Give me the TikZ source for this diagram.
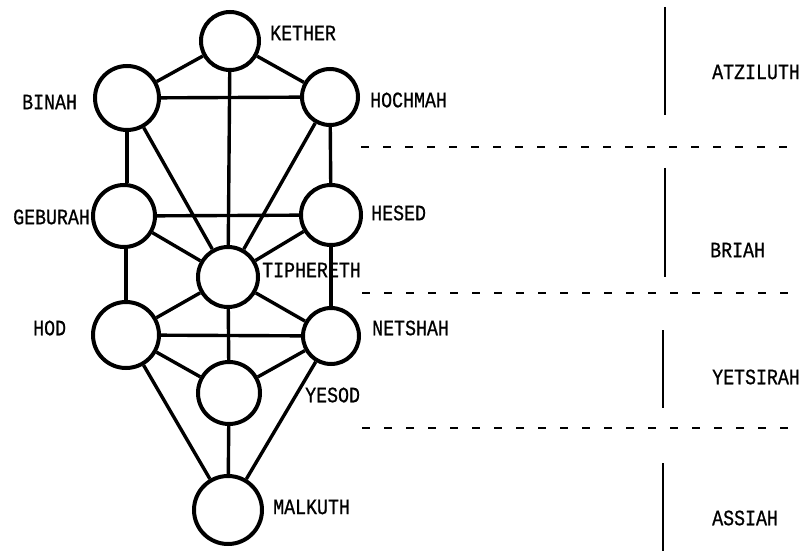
\documentclass[tikz,border=0pt]{standalone}
\usepackage{fontspec}
\newfontfamily\lblfont[FakeStretch=0.83,FakeBold=0.8]{Liberation Mono}
\begin{document}
\begin{tikzpicture}[x=1bp,y=-1bp,
  sephira/.style={circle,draw,line width=4bp,inner sep=0pt},
  path22/.style={line width=3.4bp},
  lbl/.style={anchor=west,inner sep=0pt,font=\lblfont\fontsize{22bp}{24bp}\selectfont},
  worldline/.style={line width=1.8bp},
  divider/.style={line width=1.8bp,dash pattern=on 8bp off 14bp}]
\useasboundingbox (0,0) rectangle (801,551);
% sephiroth
\node[sephira,minimum size=58bp] (kether) at (230,41) {};
\node[sephira,minimum size=64bp] (binah) at (127,98) {};
\node[sephira,minimum size=56bp] (hochmah) at (330,97) {};
\node[sephira,minimum size=62bp] (geburah) at (124,216) {};
\node[sephira,minimum size=60bp] (hesed) at (331,215) {};
\node[sephira,minimum size=60bp] (tiphereth) at (228,277) {};
\node[sephira,minimum size=66bp] (hod) at (126,335) {};
\node[sephira,minimum size=56bp] (netshah) at (331,336) {};
\node[sephira,minimum size=62bp] (yesod) at (229,393) {};
\node[sephira,minimum size=68bp] (malkuth) at (228,510) {};
% paths
\draw[path22] (kether) -- (binah);
\draw[path22] (kether) -- (hochmah);
\draw[path22] (kether) -- (tiphereth);
\draw[path22] (binah) -- (hochmah);
\draw[path22] (binah.south) -- (binah.south |- geburah.north);
\draw[path22] (binah) -- (tiphereth);
\draw[path22] (hochmah) -- (tiphereth);
\draw[path22] (hochmah) -- (hesed);
\draw[path22] (geburah) -- (hesed);
\draw[path22] (geburah) -- (tiphereth);
\draw[path22] (hesed) -- (tiphereth);
\draw[path22] (hod.north) -- (hod.north |- geburah.south);
\draw[path22] (hesed) -- (netshah);
\draw[path22] (tiphereth) -- (hod);
\draw[path22] (tiphereth) -- (netshah);
\draw[path22] (tiphereth) -- (yesod);
\draw[path22] (hod) -- (netshah);
\draw[path22] (hod) -- (yesod);
\draw[path22] (netshah) -- (yesod);
\draw[path22] (hod) -- (malkuth);
\draw[path22] (netshah) -- (malkuth);
\draw[path22] (yesod) -- (malkuth);
% labels
\node[lbl] (lkether) at (270,33) {KETHER};
\node[lbl] (lhochmah) at (370,100) {HOCHMAH};
\node[lbl] (lbinah) at (22,102) {BINAH};
\node[lbl] (lgeburah) at (13,217) {GEBURAH};
\node[lbl] (lhesed) at (371,213) {HESED};
\node[lbl] (ltiphereth) at (262,270) {TIPHERETH};
\node[lbl] (lhod) at (33,328) {HOD};
\node[lbl] (lnetshah) at (372,328) {NETSHAH};
\node[lbl] (lyesod) at (305,395) {YESOD};
\node[lbl] (lmalkuth) at (273,507) {MALKUTH};
% worlds
\node[lbl] (watz) at (712,72) {ATZILUTH};
\node[lbl] (wbri) at (710,250) {BRIAH};
\node[lbl] (wyet) at (712,377) {YETSIRAH};
\node[lbl] (wass) at (712,518) {ASSIAH};
\coordinate (a1) at (665,7);   \coordinate (a2) at (665,115);
\coordinate (b1) at (665,168); \coordinate (b2) at (665,277);
\coordinate (c1) at (663,330); \coordinate (c2) at (663,408);
\coordinate (d1) at (663,463); \coordinate (d2) at (663,551);
\draw[worldline] (a1) -- (a2);
\draw[worldline] (b1) -- (b2);
\draw[worldline] (c1) -- (c2);
\draw[worldline] (d1) -- (d2);
\coordinate (s1) at (361,147); \coordinate (e1) at (801,147);
\coordinate (s2) at (362,293); \coordinate (e2) at (801,293);
\coordinate (s3) at (362,428); \coordinate (e3) at (801,428);
\draw[divider] (s1) -- (e1);
\draw[divider] (s2) -- (e2);
\draw[divider] (s3) -- (e3);
\end{tikzpicture}
\end{document}
